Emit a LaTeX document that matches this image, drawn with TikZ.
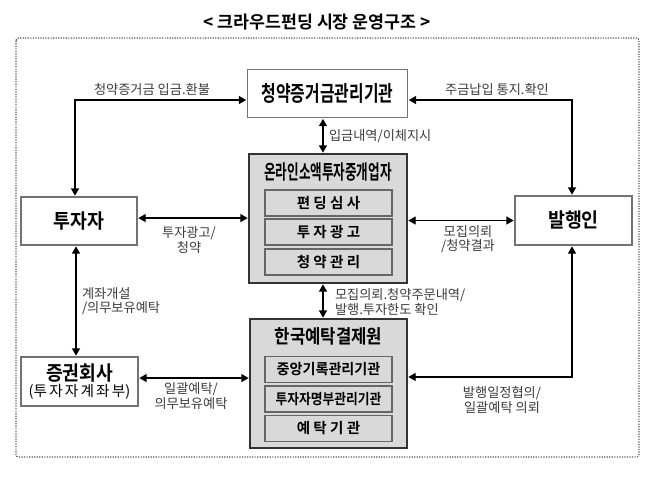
\documentclass[tikz,border=0pt]{standalone}
\usepackage{fontspec}
\usepackage{graphicx}
\setmainfont{Noto Sans CJK KR}[BoldFont={Noto Sans CJK KR Bold}]
\usetikzlibrary{arrows.meta,calc}
\definecolor{boxgray}{HTML}{D9D9D9}
\definecolor{lbl}{HTML}{3C3C3C}
\newcommand{\sqz}[2]{\scalebox{#1}[1]{#2}}
\tikzset{
  every node/.style={inner sep=0pt, outer sep=0pt},
  wbox/.style={draw=black!55, line width=0.8pt, fill=white},
  gbox/.style={draw=black!80, line width=1.5pt, fill=boxgray},
  ibox/.style={draw=black!60, line width=0.8pt, fill=boxgray, minimum width=95.25pt, minimum height=19.5pt, font=\bfseries\fontsize{10.9pt}{12pt}\selectfont},
  big/.style={font=\bfseries\fontsize{15pt}{17pt}\selectfont},
  elabel/.style={text=lbl, font=\fontsize{9.9pt}{10.8pt}\selectfont},
  dbl/.style={{Triangle[length=5.5pt,width=6pt]}-{Triangle[length=5.5pt,width=6pt]}, line width=1pt, black, shorten <=1pt, shorten >=1pt},
  frame/.style={draw=black!65, line width=0.9pt, densely dotted, rounded corners=2pt}
}
\begin{document}
\begin{tikzpicture}[x=0.75pt, y=-0.75pt]
\useasboundingbox[fill=white] (0,0) rectangle (651,476);
% title
\node (title) [font=\bfseries\fontsize{13pt}{14pt}\selectfont] at (317,22) {< 크라우드펀딩 시장 운영구조 >};
% frame
\draw[frame] (16,38) rectangle (639,457);
% boxes
\node (A) [wbox, minimum width=120pt, minimum height=36pt, font=\bfseries\fontsize{16.1pt}{18pt}\selectfont] at (327.5,93.5) {\sqz{0.74}{청약증거금관리기관}};
\node (B) [gbox, minimum width=118.5pt, minimum height=96.75pt] at (328,218.5) {};
\node (Bt) [font=\bfseries\fontsize{15pt}{17pt}\selectfont] at (328,172.5) {\sqz{0.63}{온라인소액투자중개업자}};
\node (B1) [ibox] at (328.5,203) {편 딩 심 사};
\node (B2) [ibox] at (328.5,232) {투 자 광 고};
\node (B3) [ibox] at (328.5,262) {청 약 관 리};
\node (C) [gbox, minimum width=117.75pt, minimum height=96.75pt] at (328.5,383.5) {};
\node (Ct) [font=\bfseries\fontsize{14.25pt}{16pt}\selectfont] at (328.5,336.5) {\sqz{0.88}{한국예탁결제원}};
\node (C1) [ibox] at (328.5,369.5) {\sqz{0.97}{중앙기록관리기관}};
\node (C2) [ibox] at (328.5,399) {\sqz{0.88}{투자자명부관리기관}};
\node (C3) [ibox] at (328.5,428.5) {예 탁 기 관};
\node (D) [wbox, minimum width=87pt, minimum height=36pt, big] at (79,221) {\sqz{0.92}{투자자}};
\node (E) [wbox, minimum width=87.75pt, minimum height=36.75pt, big] at (573.5,220.5) {\sqz{0.92}{발행인}};
\node (F) [wbox, minimum width=87.75pt, minimum height=36.75pt] at (79.5,381.5) {};
\node (Ft) [big] at (79.5,373) {\sqz{0.91}{증권회사}};
\node (Fs) [font=\fontsize{11pt}{12pt}\selectfont] at (79.5,391.5) {(투\hspace{1.6pt}자\hspace{1.6pt}자\hspace{1.6pt}계\hspace{1.6pt}좌\hspace{1.6pt}부)};
% connectors
\draw[dbl] ([xshift=-3pt]D.north) |- ([yshift=-4.9pt]A.west);
\draw[dbl] ([xshift=-1.1pt]E.north) |- ([yshift=-4.9pt]A.east);
\draw[dbl] ([xshift=-3.4pt]A.south) -- ([xshift=-3.4pt]A.south |- B.north);
\draw[dbl] ([yshift=2.2pt]D.east) -- ([yshift=2.2pt]D.east -| B.west);
\draw[dbl] (E.west -| B.east) -- (E.west);
\draw[dbl] ([xshift=-2.25pt]D.south) -- ([xshift=-2.25pt]D.south |- F.north);
\draw[dbl] ([xshift=-3.75pt]B.south) -- ([xshift=-3.75pt]B.south |- C.north);
\draw[dbl] ([yshift=2.6pt]F.east) -- ([yshift=2.6pt]F.east -| C.west);
\draw[dbl] ([xshift=-1.1pt]E.south) |- ([yshift=4.9pt]C.east);
% labels
\node (L1) [elabel] at (152,90) {청약증거금 입금.환불};
\node (L2) [elabel] at (497,90) {주금납입 통지.확인};
\node (L3) [elabel, anchor=west] at (329,136) {입금내역/이체지시};
\node (L4) [elabel, align=center] at (189,240) {투자광고/\\청약};
\node (L5) [elabel, align=center] at (468,239) {모집의뢰\\/청약결과};
\node (L6) [elabel, align=left, anchor=west] at (82,301) {계좌개설\\/의무보유예탁};
\node (L7) [elabel, align=left, anchor=west] at (335,302) {모집의뢰.청약주문내역/\\발행.투자한도 확인};
\node (L8) [elabel, align=center] at (191,396) {일괄예탁/\\의무보유예탁};
\node (L9) [elabel, align=center] at (502,400) {발행일정협의/\\일괄예탁 의뢰};
\end{tikzpicture}
\end{document}
